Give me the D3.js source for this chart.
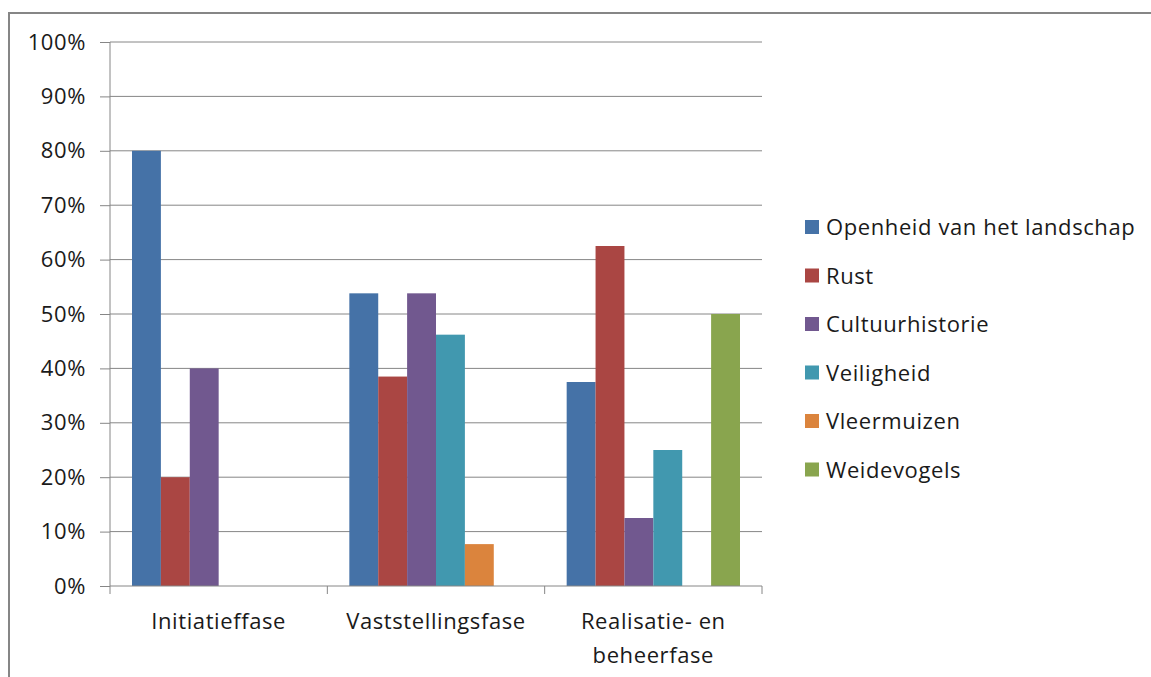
<!DOCTYPE html>
<html>
<head>
<meta charset="utf-8">
<title>Waarden per fase</title>
<script src="https://d3js.org/d3.v7.min.js"></script>
<style>
    body { margin: 0; background: #fff; }
    text { font-family: "Open Sans", Lato, sans-serif; fill: #1a1a1a; letter-spacing: 0.6px; }
</style>
</head>
<body>
<div id="chart"></div>
<script>
// categories (phases) and series
var phases = ["Initiatieffase", "Vaststellingsfase", "Realisatie- en beheerfase"];
var phaseLines = [["Initiatieffase"], ["Vaststellingsfase"], ["Realisatie- en", "beheerfase"]];
var seriesNames = ["Openheid van het landschap", "Rust", "Cultuurhistorie", "Veiligheid", "Vleermuizen", "Weidevogels"];
var seriesColors = ["#4572A7", "#AA4643", "#71588F", "#4198AF", "#DB843D", "#89A54E"];

// values per series, one per phase (fractions)
var openheid     = [0.80, 0.538, 0.375];
var rust         = [0.20, 0.385, 0.625];
var cultuur      = [0.40, 0.538, 0.125];
var veiligheid   = [0.00, 0.462, 0.25];
var vleermuizen  = [0.00, 0.077, 0.00];
var weidevogels  = [0.00, 0.00, 0.50];
var seriesValues = [openheid, rust, cultuur, veiligheid, vleermuizen, weidevogels];

var yTicks = [0, 0.1, 0.2, 0.3, 0.4, 0.5, 0.6, 0.7, 0.8, 0.9, 1.0];

var W = 1151, H = 677;
var margin = { top: 42, left: 110, right: 389, bottom: 91 };
var width = W - margin.left - margin.right,
    height = H - margin.top - margin.bottom;
var fontSize = 22;

var svg = d3.select("#chart").append("svg")
    .attr("width", W).attr("height", H);

// chart frame
svg.append("rect")
    .attr("x", 9).attr("y", 13)
    .attr("width", W).attr("height", H)
    .attr("fill", "none").attr("stroke", "#868686").attr("stroke-width", 2);

var g = svg.append("g")
    .attr("transform", "translate(" + margin.left + "," + margin.top + ")");

var x0 = d3.scaleBand().domain(phases).range([0, width]).paddingInner(0).paddingOuter(0);
var x1 = d3.scaleBand().domain(seriesNames).range([22, x0.bandwidth() - 22]).padding(0);
var y = d3.scaleLinear().domain([0, 1]).range([height, 0]);

// gridlines
g.append("g").selectAll("line")
    .data(yTicks.slice(1))
    .enter().append("line")
    .attr("x1", 0).attr("x2", width)
    .attr("y1", function (d) { return y(d); })
    .attr("y2", function (d) { return y(d); })
    .attr("stroke", "#868686").attr("stroke-width", 1);

// y axis
var yAxis = g.append("g")
    .call(d3.axisLeft(y).tickValues(yTicks).tickFormat(d3.format(".0%")).tickSize(10).tickPadding(14));
yAxis.selectAll("path, line").attr("stroke", "#868686");
yAxis.select(".domain").attr("d", "M0," + height + "V0");
yAxis.selectAll("text").attr("font-size", fontSize).style("font-family", "'Open Sans', sans-serif").attr("fill", "#1a1a1a");

// bars
var rows = [];
phases.forEach(function (p, i) {
    seriesNames.forEach(function (s, j) {
        rows.push({ phase: p, series: s, value: seriesValues[j][i], color: seriesColors[j] });
    });
});
g.append("g").selectAll("rect")
    .data(rows.filter(function (d) { return d.value > 0; }))
    .enter().append("rect")
    .attr("x", function (d) { return x0(d.phase) + x1(d.series); })
    .attr("width", x1.bandwidth())
    .attr("y", function (d) { return y(d.value); })
    .attr("height", function (d) { return height - y(d.value); })
    .attr("fill", function (d) { return d.color; });

// x axis
var xAxis = g.append("g")
    .attr("transform", "translate(0," + height + ")");
xAxis.append("line").attr("x1", 0).attr("x2", width).attr("stroke", "#868686");
xAxis.selectAll(".tk")
    .data([0, 1, 2, 3])
    .enter().append("line")
    .attr("x1", function (d) { return d * x0.bandwidth(); })
    .attr("x2", function (d) { return d * x0.bandwidth(); })
    .attr("y1", 0).attr("y2", 8)
    .attr("stroke", "#868686");
phases.forEach(function (p, i) {
    var t = xAxis.append("text")
        .attr("x", x0(p) + x0.bandwidth() / 2)
        .attr("y", 43)
        .attr("text-anchor", "middle")
        .attr("font-size", fontSize);
    phaseLines[i].forEach(function (line, k) {
        t.append("tspan")
            .attr("x", x0(p) + x0.bandwidth() / 2)
            .attr("dy", k === 0 ? 0 : 34)
            .text(line);
    });
});

// legend
var legend = svg.append("g").attr("transform", "translate(805,227)");
var li = legend.selectAll("g")
    .data(seriesNames)
    .enter().append("g")
    .attr("transform", function (d, i) { return "translate(0," + (i * 48.5) + ")"; });
li.append("rect")
    .attr("x", 0).attr("y", -7)
    .attr("width", 14).attr("height", 14)
    .attr("fill", function (d, i) { return seriesColors[i]; });
li.append("text")
    .attr("x", 21).attr("y", 8)
    .attr("font-size", fontSize)
    .text(function (d) { return d; });
</script>
</body>
</html>
